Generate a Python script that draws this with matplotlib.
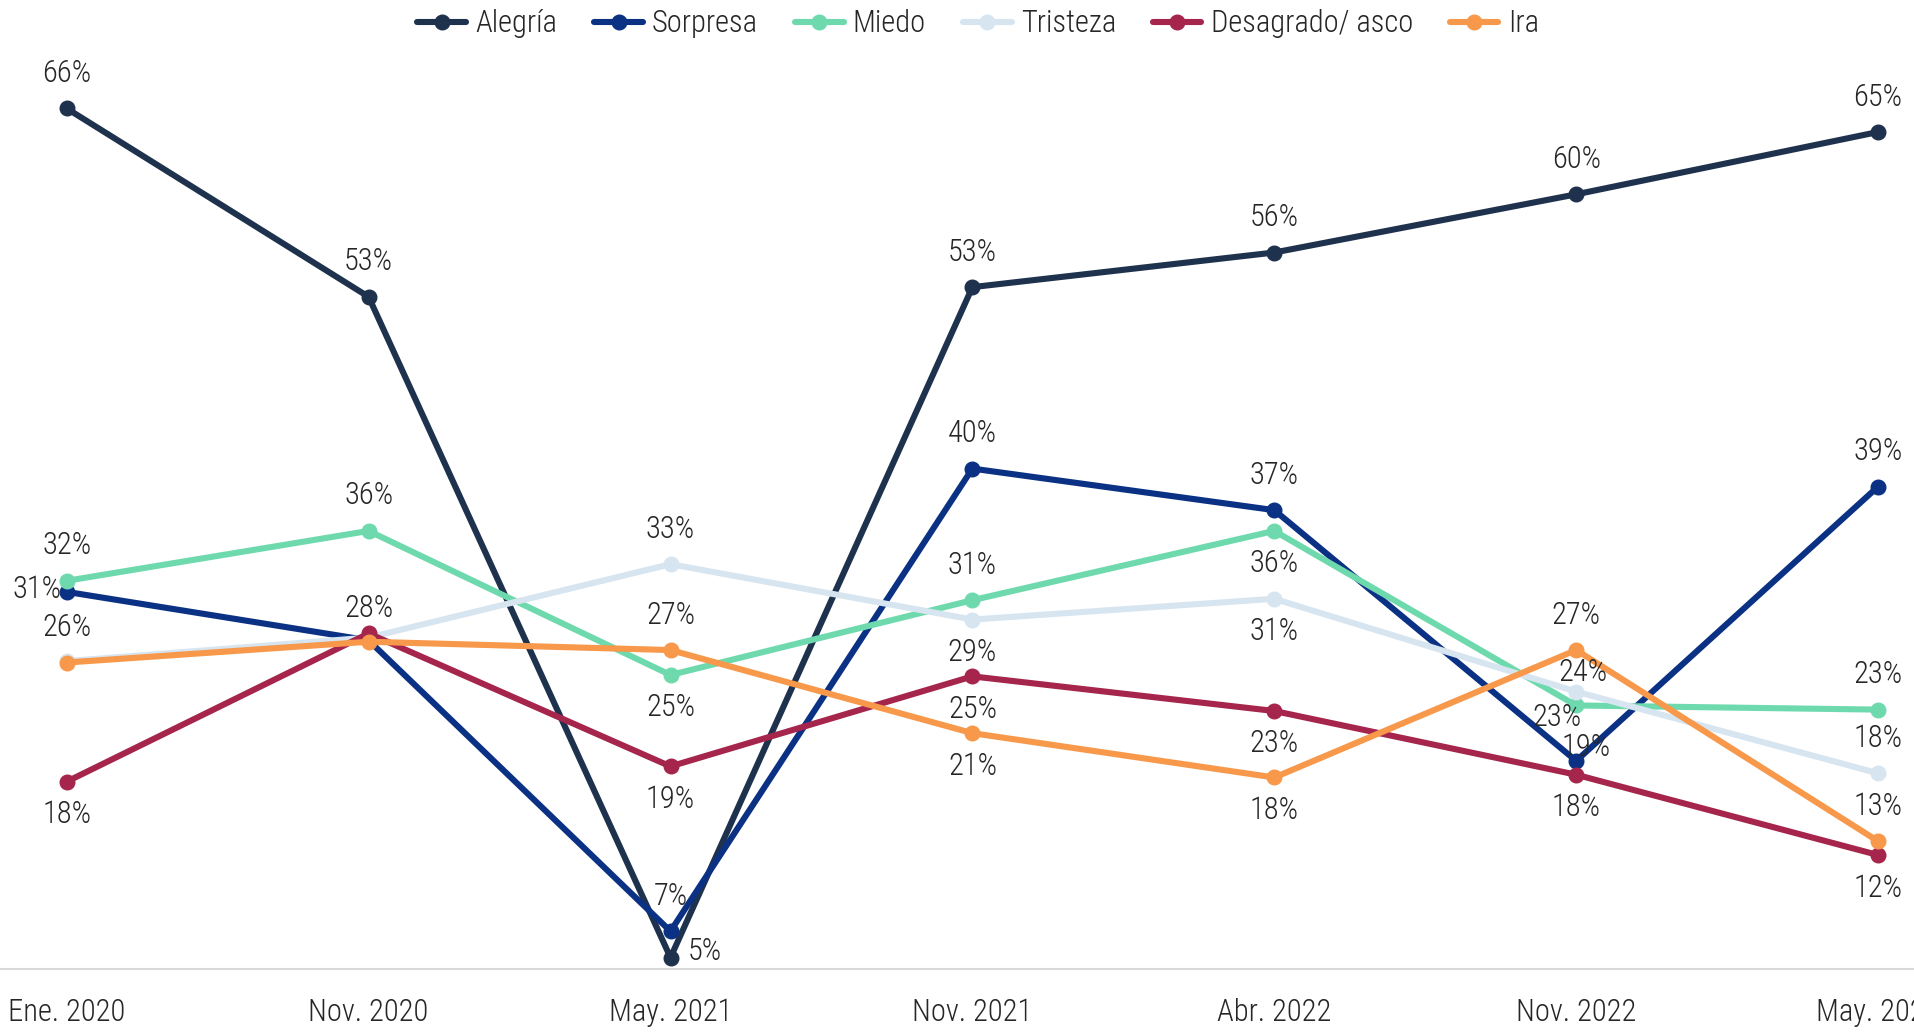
import numpy as np
import matplotlib
matplotlib.use("Agg")
import matplotlib.pyplot as plt
from matplotlib import font_manager

# Emociones declaradas por periodo (%)
periodos = ["Ene. 2020", "Nov. 2020", "May. 2021", "Nov. 2021", "Abr. 2022", "Nov. 2022", "May. 2023"]
series = ["Alegría", "Sorpresa", "Miedo", "Tristeza", "Desagrado/ asco", "Ira"]

alegria = [66.3, 52.7, 5.0, 53.4, 55.9, 60.1, 64.6]
sorpresa = [31.4, 27.9, 6.9, 40.3, 37.3, 19.2, 39.0]
miedo = [32.2, 35.8, 25.4, 30.8, 35.8, 23.2, 22.9]
tristeza = [26.4, 28.1, 33.4, 29.4, 30.9, 24.2, 18.3]
desagrado = [17.7, 28.4, 18.8, 25.3, 22.8, 18.2, 12.4]
ira = [26.3, 27.8, 27.2, 21.2, 18.0, 27.2, 13.4]

valores = [alegria, sorpresa, miedo, tristeza, desagrado, ira]
colores = ["#1F324D", "#0A3183", "#6FD9AE", "#D7E5F1", "#A5254C", "#F7984A"]

# posicion de cada etiqueta: "a" arriba, "b" abajo, "i" izquierda, "-" sin etiqueta,
# o un desplazamiento (dx, dy) en pixeles
pos_etiquetas = [
    ["a", "a", (34, 6), "a", "a", "a", "a"],
    ["i", "-", "a", "a", "a", (10, 13), "a"],
    ["a", "a", "b", "a", "b", (-19, -12), "a"],
    ["-", "-", "a", "b", "b", (7, 19), "a"],
    ["b", (0, 25), "b", "b", "b", "b", "b"],
    ["a", "-", "a", "b", "b", "a", "a"],
]

# fuente condensada si esta disponible
disponibles = {f.name for f in font_manager.fontManager.ttflist}
familia = "DejaVu Sans"
for cand in ["Roboto Condensed", "Liberation Sans Narrow", "Roboto", "Liberation Sans"]:
    if cand in disponibles:
        familia = cand
        break
plt.rcParams["font.family"] = [familia, "DejaVu Sans"]
plt.rcParams["font.weight"] = "light"

color_texto = "#262626"
fs = 22

fig = plt.figure(figsize=(19.14, 10.32), dpi=100)
ax = fig.add_axes([0, 0.061, 1, 0.939])

x = np.arange(len(periodos))
for nombre, vals, col, posiciones in zip(series, valores, colores, pos_etiquetas):
    ax.plot(x, vals, color=col, lw=4.4, marker="o", ms=10.5, label=nombre,
            solid_capstyle="round")
    for xi, v, p in zip(x, vals, posiciones):
        if p == "-":
            continue
        if p == "a":
            off = (0, 35)
        elif p == "b":
            off = (0, -33)
        elif p == "i":
            off = (-30, 2)
        else:
            off = p
        ax.annotate(f"{round(v):.0f}%", (xi, v), xytext=off, textcoords="offset pixels",
                    ha="center", va="center", fontsize=fs, color=color_texto)

ax.set_xlim(-0.221, 6.119)
ax.set_ylim(4.17, 74.13)
ax.set_xticks(x)
ax.set_xticklabels(periodos, fontsize=fs, color=color_texto)
ax.tick_params(axis="x", length=0, pad=21)
ax.set_yticks([])
for lado in ["top", "left", "right"]:
    ax.spines[lado].set_visible(False)
ax.spines["bottom"].set_color("#D9D9D9")
ax.spines["bottom"].set_linewidth(1.5)

leg = ax.legend(loc="upper center", bbox_to_anchor=(0.511, 1.003), ncol=6, frameon=False,
                fontsize=fs, handlelength=1.6, handletextpad=0.3, columnspacing=1.2,
                borderaxespad=0)
for t in leg.get_texts():
    t.set_color(color_texto)

fig.savefig("out.png", dpi=100)
